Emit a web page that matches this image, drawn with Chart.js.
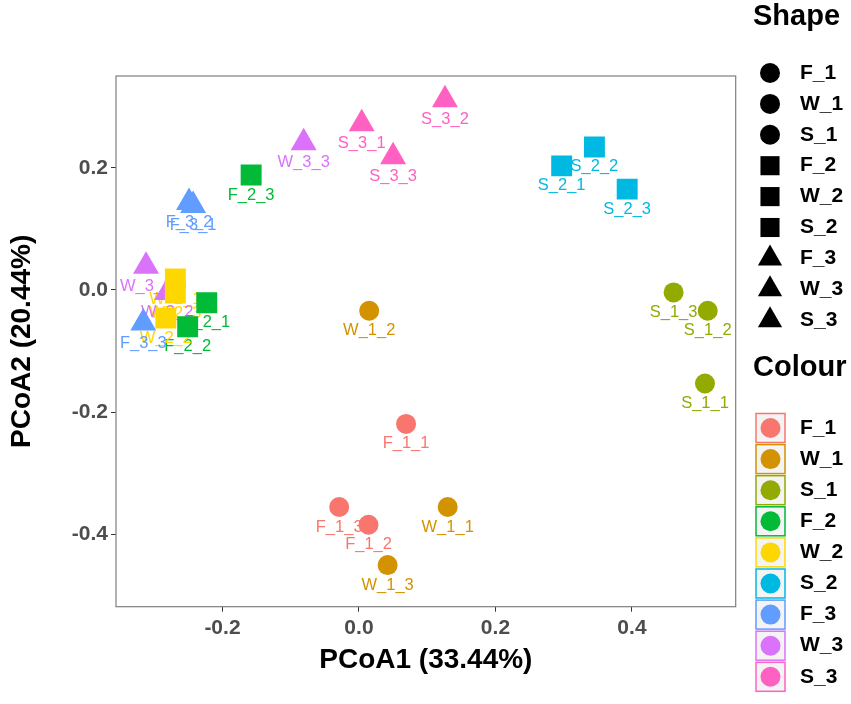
<!DOCTYPE html>
<html lang="en">
<head>
    <meta charset="UTF-8">
    <title>PCoA</title>
    <script src="https://cdn.jsdelivr.net/npm/chart.js"></script>
    <style>
        html, body { margin: 0; padding: 0; background: #ffffff; }
        canvas { display: block; }
    </style>
</head>
<body>
<canvas id="pcoaChart" width="851" height="704"></canvas>
<script>
    // groups, colours and shapes as in the original legend
    const groups = ['F_1', 'W_1', 'S_1', 'F_2', 'W_2', 'S_2', 'F_3', 'W_3', 'S_3'];
    const colours = ['#F8766D', '#D39200', '#93AA00', '#00BA38', '#FFD700', '#00B9E3', '#619CFF', '#DB72FB', '#FF61C3'];
    const shapes = ['circle', 'circle', 'circle', 'rect', 'rect', 'rect', 'triangle', 'triangle', 'triangle'];

    // replicate _1, _2, _3 of each group
    const pcoa1 = [
        [0.069, 0.014, -0.029],
        [0.130, 0.015, 0.042],
        [0.507, 0.511, 0.461],
        [-0.223, -0.251, -0.158],
        [-0.269, -0.283, -0.269],
        [0.297, 0.345, 0.393],
        [-0.243, -0.249, -0.316],
        [-0.312, -0.281, -0.081],
        [0.004, 0.126, 0.050]
    ];
    const pcoa2 = [
        [-0.219, -0.384, -0.355],
        [-0.355, -0.034, -0.450],
        [-0.153, -0.034, -0.004],
        [-0.021, -0.060, 0.188],
        [0.018, -0.046, -0.005],
        [0.203, 0.234, 0.165],
        [0.138, 0.143, -0.054],
        [0.039, -0.004, 0.241],
        [0.272, 0.311, 0.218]
    ];

    const xTicks = [-0.2, 0.0, 0.2, 0.4];
    const yTicks = [-0.4, -0.2, 0.0, 0.2];

    const FONT = '"Liberation Sans", Arial, sans-serif';
    const markerSize = { circle: 10, rect: 14.8, triangle: 15 };

    const datasets = groups.map((g, i) => ({
        label: g,
        data: pcoa1[i].map((x, j) => ({ x: x, y: pcoa2[i][j], name: g + '_' + (j + 1) })),
        pointStyle: shapes[i],
        pointRadius: markerSize[shapes[i]],
        backgroundColor: colours[i],
        borderWidth: 0
    }));

    const overlay = {
        id: 'overlay',
        beforeDatasetsDraw(chart) {
            // sample names sit under their points, points are drawn over them
            const ctx = chart.ctx;
            const a = chart.chartArea;
            ctx.save();
            ctx.beginPath();
            ctx.rect(a.left, a.top, a.right - a.left, a.bottom - a.top);
            ctx.clip();
            ctx.font = '16.5px ' + FONT;
            ctx.textAlign = 'center';
            ctx.textBaseline = 'middle';
            chart.data.datasets.forEach((ds, i) => {
                const meta = chart.getDatasetMeta(i);
                ctx.fillStyle = colours[i];
                meta.data.forEach((pt, j) => {
                    ctx.fillText(ds.data[j].name, pt.x, pt.y + 20);
                });
            });
            ctx.restore();
        },
        afterDraw(chart) {
            const ctx = chart.ctx;
            const a = chart.chartArea;
            ctx.save();
            ctx.strokeStyle = '#7F7F7F';
            ctx.lineWidth = 1.2;
            ctx.strokeRect(a.left, a.top, a.right - a.left, a.bottom - a.top);

            // shape legend
            ctx.fillStyle = '#000000';
            ctx.textAlign = 'left';
            ctx.textBaseline = 'middle';
            ctx.font = 'bold 29px ' + FONT;
            ctx.fillText('Shape', 753, 17);
            ctx.font = 'bold 21px ' + FONT;
            groups.forEach((g, i) => {
                const y = 73 + i * 30.9;
                const r = shapes[i] === 'circle' ? 10 : (shapes[i] === 'rect' ? 13.5 : 14);
                ctx.fillStyle = '#000000';
                Chart.helpers.drawPoint(ctx, { pointStyle: shapes[i], radius: r, rotation: 0, borderWidth: 0 }, 770, y);
                ctx.fillText(g, 800, y);
            });

            // colour legend
            ctx.font = 'bold 29px ' + FONT;
            ctx.fillText('Colour', 753, 368);
            ctx.font = 'bold 21px ' + FONT;
            groups.forEach((g, i) => {
                const y = 428 + i * 31.1;
                ctx.fillStyle = '#F4F4F4';
                ctx.fillRect(756, y - 14.5, 29, 29);
                ctx.strokeStyle = colours[i];
                ctx.lineWidth = 1.5;
                ctx.strokeRect(756, y - 14.5, 29, 29);
                ctx.fillStyle = colours[i];
                ctx.beginPath();
                ctx.arc(770.5, y, 10, 0, Math.PI * 2);
                ctx.fill();
                ctx.fillStyle = '#000000';
                ctx.fillText(g, 800, y);
            });
            ctx.restore();
        }
    };

    const tickFont = { family: FONT, size: 21, weight: 'bold' };
    const titleFont = { family: FONT, size: 28, weight: 'bold' };

    new Chart(document.getElementById('pcoaChart'), {
        type: 'scatter',
        data: { datasets: datasets },
        options: {
            responsive: false,
            animation: false,
            events: [],
            layout: { padding: { left: 0, right: 115.3, top: 76, bottom: 0 } },
            plugins: { legend: { display: false }, tooltip: { enabled: false } },
            scales: {
                x: {
                    type: 'linear',
                    min: -0.356,
                    max: 0.552,
                    afterBuildTicks: (s) => { s.ticks = xTicks.map(v => ({ value: v })); },
                    afterFit: (s) => { s.height = 97.3; },
                    grid: { drawOnChartArea: false, drawTicks: true, tickLength: 5, color: '#333333' },
                    border: { display: false },
                    ticks: { font: tickFont, color: '#4D4D4D', padding: 4, maxRotation: 0, callback: (v) => v.toFixed(1) },
                    title: { display: true, text: 'PCoA1 (33.44%)', font: titleFont, color: '#000000', padding: { top: 0, bottom: 27 } }
                },
                y: {
                    type: 'linear',
                    min: -0.518,
                    max: 0.350,
                    afterBuildTicks: (s) => { s.ticks = yTicks.map(v => ({ value: v })); },
                    afterFit: (s) => { s.width = 116; },
                    grid: { drawOnChartArea: false, drawTicks: true, tickLength: 5, color: '#333333' },
                    border: { display: false },
                    ticks: { font: tickFont, color: '#4D4D4D', padding: 3, callback: (v) => v.toFixed(1) },
                    title: { display: true, text: 'PCoA2 (20.44%)', font: titleFont, color: '#000000', padding: { top: 5, bottom: 0 } }
                }
            }
        },
        plugins: [overlay]
    });
</script>
</body>
</html>
